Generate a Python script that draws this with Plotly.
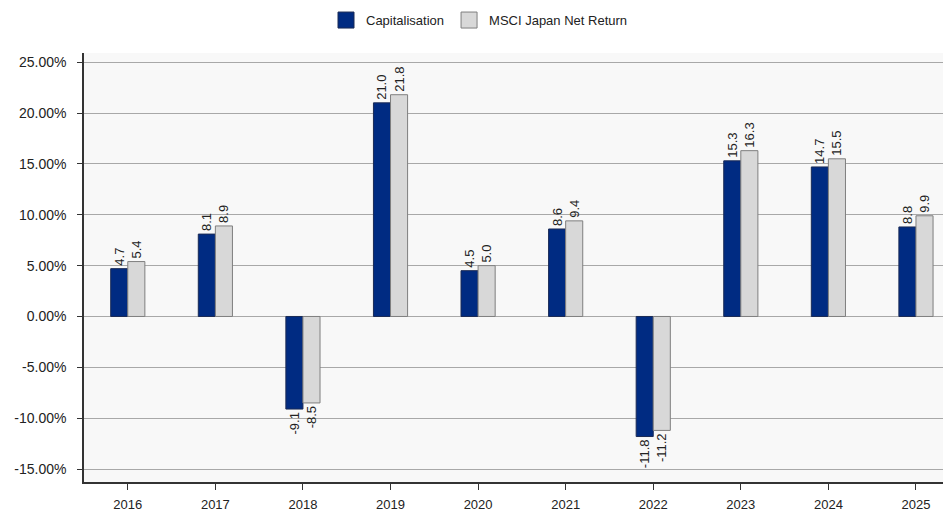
import plotly.graph_objects as go

years = ["2016", "2017", "2018", "2019", "2020", "2021", "2022", "2023", "2024", "2025"]
capitalisation = [4.7, 8.1, -9.1, 21.0, 4.5, 8.6, -11.8, 15.3, 14.7, 8.8]
msci_japan = [5.4, 8.9, -8.5, 21.8, 5.0, 9.4, -11.2, 16.3, 15.5, 9.9]
y_ticks = [-15, -10, -5, 0, 5, 10, 15, 20, 25]
y_tick_labels = [f"{v:.2f}%" for v in y_ticks]

BLUE = "#002b82"
GREY = "#d8d8d8"
NARROW = "Liberation Sans Narrow, Arial Narrow, Liberation Sans, Arial, sans-serif"
REG = "Liberation Sans, Arial, sans-serif"

fig = go.Figure()
fig.add_trace(go.Bar(
    x=years, y=capitalisation, name="Capitalisation",
    marker=dict(color=BLUE, line=dict(color="#1a2a55", width=1)),
    text=[f"{v:.1f}" for v in capitalisation], textposition="outside",
    textangle=-90, constraintext="none",
    textfont=dict(family=NARROW, size=13, color="#222"),
    cliponaxis=False, showlegend=False,
))
fig.add_trace(go.Bar(
    x=years, y=msci_japan, name="MSCI Japan Net Return",
    marker=dict(color=GREY, line=dict(color="#7f7f7f", width=1)),
    text=[f"{v:.1f}" for v in msci_japan], textposition="outside",
    textangle=-90, constraintext="none",
    textfont=dict(family=NARROW, size=13, color="#222"),
    cliponaxis=False, showlegend=False,
))
# legend entries
for name, col, lc in [("Capitalisation", BLUE, "#1a2a55"), ("MSCI Japan Net Return", GREY, "#7f7f7f")]:
    fig.add_trace(go.Scatter(
        x=[None], y=[None], mode="markers", name=name,
        marker=dict(symbol="square", size=20, color=col, line=dict(color=lc, width=1)),
        showlegend=True,
    ))

# page body has an 8px default margin: figure drawn from (8, 8)
fig.update_layout(
    width=943, height=504,
    margin=dict(l=76, r=0, t=45, b=30, autoexpand=False),
    paper_bgcolor="white", plot_bgcolor="#f8f8f8",
    barmode="group", bargap=0.61, bargroupgap=0,
    legend=dict(orientation="h", x=0.5, xref="container", xanchor="center",
                y=0.976, yref="container", yanchor="middle",
                font=dict(family=NARROW, size=13, color="#222"),
                traceorder="normal"),
    font=dict(family=REG, color="#222"),
)
fig.update_xaxes(
    range=[-0.5, 9.4], showgrid=False, showline=True, linecolor="#333", linewidth=1.5,
    ticks="outside", ticklen=6, tickcolor="#333", tickfont=dict(family=NARROW, size=13, color="#222"),
    ticklabelstandoff=4, automargin=False,
)
fig.update_yaxes(
    range=[-16.27, 25.9], tickvals=y_ticks, ticktext=y_tick_labels,
    showgrid=True, gridcolor="#a8a8a8", gridwidth=1, zeroline=False,
    showline=True, linecolor="#333", linewidth=1.5,
    ticks="outside", ticklen=5, tickcolor="#333", tickfont=dict(family=REG, size=14, color="#222"),
    ticklabelstandoff=8, automargin=False,
)
fig.write_html("out.html")
